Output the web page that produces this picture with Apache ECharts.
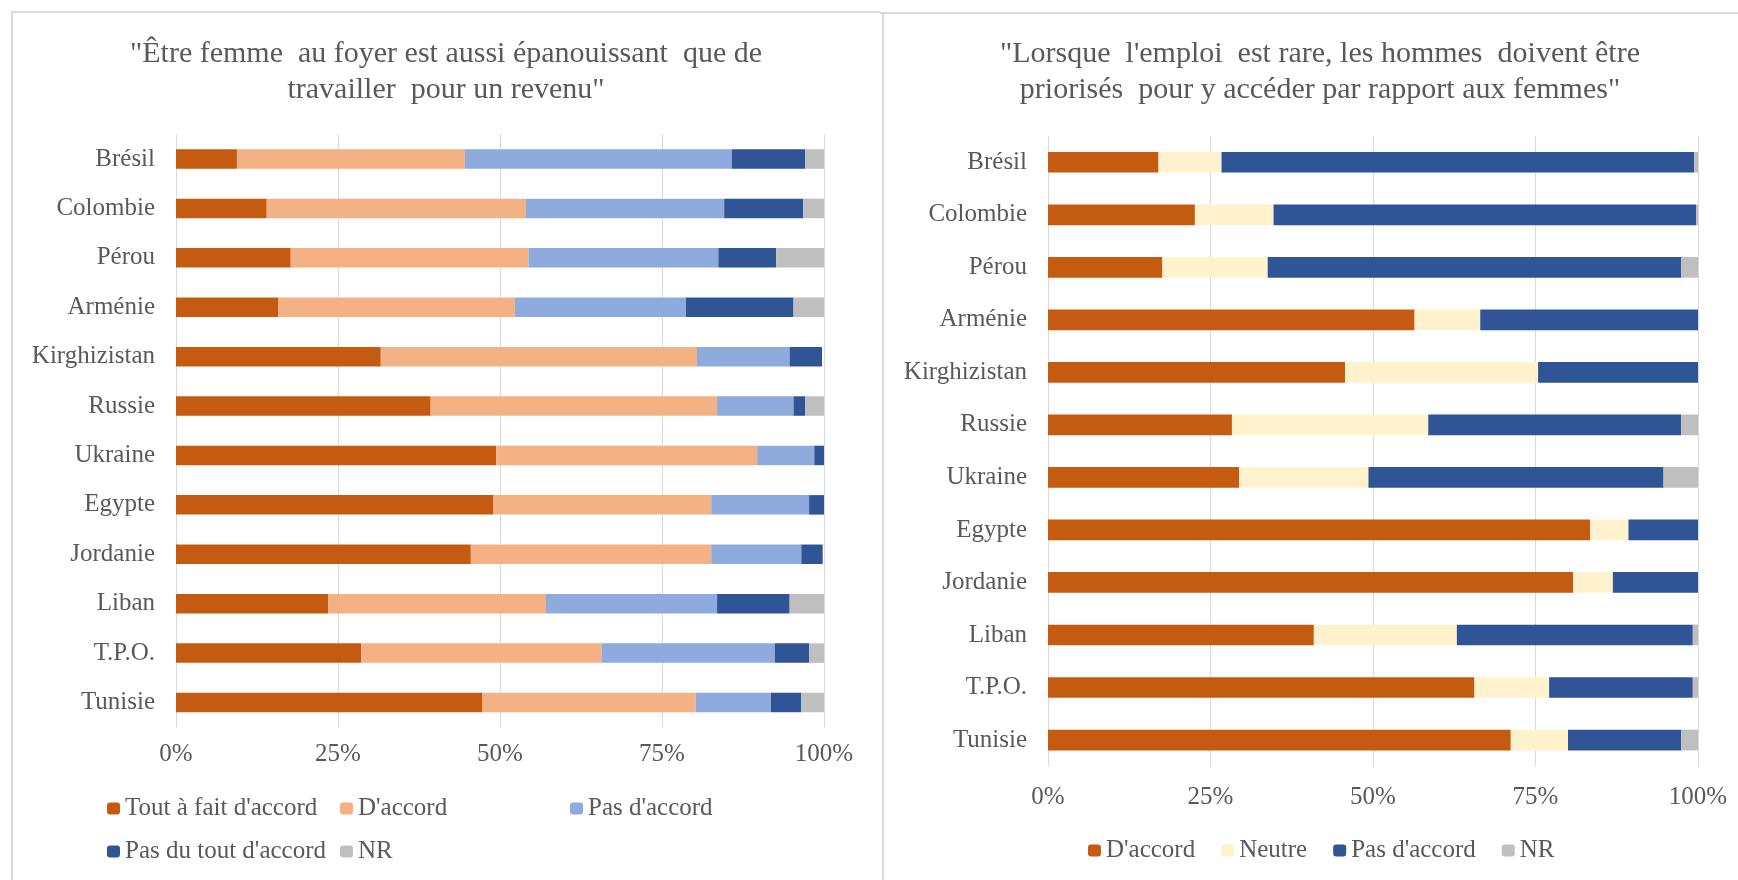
<!DOCTYPE html>
<html lang="fr">
<head>
<meta charset="utf-8">
<title>Rôles de genre et emploi</title>
<script src="https://cdn.jsdelivr.net/npm/echarts@6/dist/echarts.min.js"></script>
<style>
  html, body { margin: 0; padding: 0; background: #ffffff; }
  #wrap { position: relative; width: 1738px; height: 880px; overflow: hidden; }
  #left { position: absolute; left: 0; top: 0; width: 880px; height: 880px; }
  #right { position: absolute; left: 880px; top: 0; width: 858px; height: 880px; }
</style>
</head>
<body>
<div id="wrap">
  <div id="left"></div>
  <div id="right"></div>
</div>
<script>
// Pays (de haut en bas)
const countries = ['Brésil', 'Colombie', 'Pérou', 'Arménie', 'Kirghizistan', 'Russie',
  'Ukraine', 'Egypte', 'Jordanie', 'Liban', 'T.P.O.', 'Tunisie'];
const tickLabels = ['0%', '25%', '50%', '75%', '100%'];

// « Être femme au foyer est aussi épanouissant que de travailler pour un revenu » (%)
const foyerToutAFait   = [9.4, 14.0, 17.7, 15.8, 31.6, 39.3, 49.4, 49.0, 45.5, 23.5, 28.6, 47.3];
const foyerDaccord     = [35.2, 40.0, 36.7, 36.5, 48.8, 44.2, 40.3, 33.6, 37.1, 33.6, 37.1, 32.9];
const foyerPasDaccord  = [41.2, 30.6, 29.3, 26.4, 14.3, 11.8, 8.8, 15.1, 13.9, 26.4, 26.7, 11.6];
const foyerPasDuTout   = [11.3, 12.2, 8.9, 16.6, 5.0, 1.8, 1.5, 2.3, 3.3, 11.2, 5.3, 4.7];
const foyerNR          = [2.9, 3.2, 7.4, 4.7, 0, 2.9, 0, 0, 0, 5.3, 2.3, 3.5];

// « Lorsque l'emploi est rare, les hommes doivent être priorisés » (%)
const emploiDaccord    = [17.0, 22.6, 17.6, 56.4, 45.7, 28.3, 29.4, 83.4, 80.8, 40.9, 65.6, 71.2];
const emploiNeutre     = [9.7, 12.1, 16.2, 10.1, 29.7, 30.2, 19.9, 5.9, 6.1, 22.0, 11.5, 8.8];
const emploiPasDaccord = [72.7, 65.0, 63.6, 33.5, 24.6, 38.9, 45.4, 10.7, 13.1, 36.3, 22.1, 17.4];
const emploiNR         = [0.6, 0.3, 2.6, 0, 0, 2.6, 5.3, 0, 0, 0.8, 0.8, 2.6];

const FONT = '"Liberation Serif", "Times New Roman", serif';
const TEXT = '#595959';
const BORDER = '#d9d9d9';
const C = {
  darkOrange: '#C55A11', lightOrange: '#F4B183', lightBlue: '#8FAADC',
  darkBlue: '#2F5597', grey: '#BFBFBF', cream: '#FFF2CC'
};

function xAxisCfg(margin) {
  return {
    type: 'value', min: 0, max: 100, interval: 25,
    axisLine: { show: false }, axisTick: { show: false },
    splitLine: { show: true, lineStyle: { color: BORDER, width: 1 } },
    axisLabel: {
      margin: margin, color: TEXT, fontFamily: FONT, fontSize: 25,
      formatter: v => tickLabels[Math.round(v / 25)]
    }
  };
}
function yAxisCfg() {
  return {
    type: 'category', data: countries, inverse: true,
    axisLine: { show: false }, axisTick: { show: false },
    axisLabel: { margin: 21, color: TEXT, fontFamily: FONT, fontSize: 25 }
  };
}
function barSeries(name, data, color, width) {
  return {
    name: name, type: 'bar', stack: 'total', data: data, barWidth: width,
    itemStyle: { color: color }, emphasis: { disabled: true }, animation: false
  };
}
function legendItem(name, left, top) {
  return {
    data: [name], left: left, top: top, padding: 0, itemWidth: 13, itemHeight: 12,
    itemGap: 26, selectedMode: false,
    textStyle: { color: TEXT, fontFamily: FONT, fontSize: 25 }
  };
}
function titleText(text, x) {
  return {
    type: 'text', x: x, y: 36, silent: true,
    style: { text: text, fill: TEXT, fontFamily: FONT, fontSize: 30,
      align: 'center', verticalAlign: 'top', lineHeight: 36 }
  };
}

// Graphique de gauche
const left = echarts.init(document.getElementById('left'), null, { renderer: 'canvas' });
left.setOption({
  animation: false,
  grid: { left: 176, top: 134.3, width: 648, height: 592.9, containLabel: false },
  xAxis: xAxisCfg(15),
  yAxis: yAxisCfg(),
  legend: [
    legendItem("Tout à fait d'accord", 107, 796),
    legendItem("D'accord", 340, 796),
    legendItem("Pas d'accord", 570, 796),
    legendItem("Pas du tout d'accord", 107, 839),
    legendItem('NR', 340, 839)
  ],
  series: [
    barSeries("Tout à fait d'accord", foyerToutAFait, C.darkOrange, 19.5),
    barSeries("D'accord", foyerDaccord, C.lightOrange, 19.5),
    barSeries("Pas d'accord", foyerPasDaccord, C.lightBlue, 19.5),
    barSeries("Pas du tout d'accord", foyerPasDuTout, C.darkBlue, 19.5),
    barSeries('NR', foyerNR, C.grey, 19.5)
  ],
  graphic: [
    titleText('"Être femme  au foyer est aussi épanouissant  que de\ntravailler  pour un revenu"', 446),
    { type: 'line', silent: true, shape: { x1: 12, y1: 12, x2: 12, y2: 880 }, style: { stroke: BORDER, lineWidth: 2 } },
    { type: 'line', silent: true, shape: { x1: 11, y1: 12, x2: 880, y2: 12 }, style: { stroke: BORDER, lineWidth: 2 } }
  ]
});

// Graphique de droite
const right = echarts.init(document.getElementById('right'), null, { renderer: 'canvas' });
right.setOption({
  animation: false,
  grid: { left: 168, top: 136, width: 650, height: 630.3, containLabel: false },
  xAxis: xAxisCfg(19),
  yAxis: yAxisCfg(),
  legend: {
    data: ["D'accord", 'Neutre', "Pas d'accord", 'NR'],
    left: 208, top: 838, padding: 0, itemWidth: 13, itemHeight: 12, itemGap: 26,
    selectedMode: false,
    textStyle: { color: TEXT, fontFamily: FONT, fontSize: 25 }
  },
  series: [
    barSeries("D'accord", emploiDaccord, C.darkOrange, 20.7),
    barSeries('Neutre', emploiNeutre, C.cream, 20.7),
    barSeries("Pas d'accord", emploiPasDaccord, C.darkBlue, 20.7),
    barSeries('NR', emploiNR, C.grey, 20.7)
  ],
  graphic: [
    titleText('"Lorsque  l\'emploi  est rare, les hommes  doivent être\npriorisés  pour y accéder par rapport aux femmes"', 440),
    { type: 'line', silent: true, shape: { x1: 0, y1: 13, x2: 858, y2: 13 }, style: { stroke: BORDER, lineWidth: 2 } },
    { type: 'line', silent: true, shape: { x1: 3, y1: 12, x2: 3, y2: 880 }, style: { stroke: BORDER, lineWidth: 2 } }
  ]
});
</script>
</body>
</html>
